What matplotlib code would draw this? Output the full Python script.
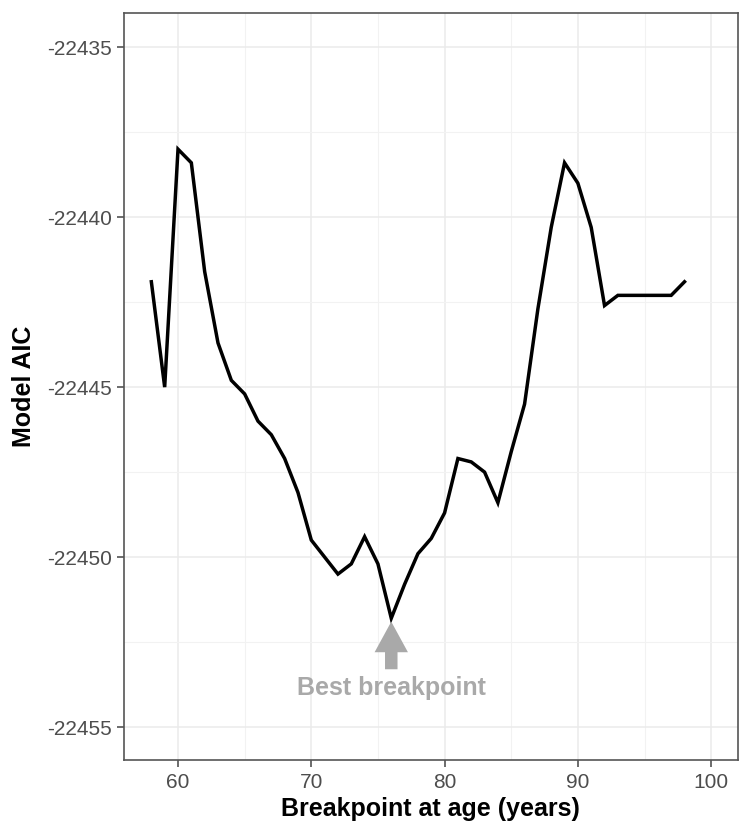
import matplotlib
matplotlib.use("Agg")
import matplotlib.pyplot as plt
from matplotlib.ticker import MultipleLocator

# AIC for each candidate breakpoint age
ages = list(range(58, 99))
aic = [-22441.9, -22445.0, -22438.0, -22438.4, -22441.6, -22443.7, -22444.8,
       -22445.2, -22446.0, -22446.4, -22447.1, -22448.1, -22449.5, -22450.0,
       -22450.5, -22450.2, -22449.4, -22450.2, -22451.8, -22450.8, -22449.9,
       -22449.45, -22448.7, -22447.1, -22447.2, -22447.5, -22448.4, -22446.9,
       -22445.5, -22442.7, -22440.3, -22438.4, -22439.0, -22440.3, -22442.6,
       -22442.3, -22442.3, -22442.3, -22442.3, -22442.3, -22441.9]

best_age = 76
best_label = "Best breakpoint"
x_ticks = [60, 70, 80, 90, 100]
y_ticks = [-22455, -22450, -22445, -22440, -22435]

plt.rcParams["font.family"] = ["Liberation Sans", "DejaVu Sans"]

fig = plt.figure(figsize=(7.44, 8.27), dpi=100)
ax = fig.add_axes([0.1667, 0.081, 0.825, 0.903])

ax.plot(ages, aic, color="black", lw=2.5, solid_joinstyle="miter", zorder=3)

# arrow pointing at the minimum
gray = "#a9a9a9"
ax.annotate("", xy=(best_age, -22451.9), xytext=(best_age, -22453.3),
            arrowprops=dict(arrowstyle="simple,head_length=1.1,head_width=1.2,tail_width=0.45",
                            mutation_scale=20, color=gray, lw=0,
                            shrinkA=0, shrinkB=0), zorder=4)
ax.text(best_age, -22453.85, best_label, color=gray, fontsize=18,
        fontweight="bold", ha="center", va="center")

ax.set_xlim(55.95, 102.0)
ax.set_ylim(-22455.97, -22434.0)
ax.set_xticks(x_ticks)
ax.set_yticks(y_ticks)
ax.set_yticklabels([str(v) for v in y_ticks])
ax.xaxis.set_minor_locator(MultipleLocator(5))
ax.yaxis.set_minor_locator(MultipleLocator(2.5))

ax.grid(which="major", color="#ebebeb", lw=1.1, zorder=0)
ax.grid(which="minor", color="#f2f2f2", lw=0.8, zorder=0)
ax.set_axisbelow(True)
for s in ax.spines.values():
    s.set_color("#555555")
    s.set_linewidth(1.2)
ax.tick_params(which="major", length=5, width=1.1, color="#444444",
               labelsize=15, labelcolor="#4d4d4d", pad=4)
ax.tick_params(which="minor", length=0)

ax.set_xlabel("Breakpoint at age (years)", fontsize=18, fontweight="bold", labelpad=4)
ax.set_ylabel("Model AIC", fontsize=18, fontweight="bold", labelpad=8)

fig.savefig("out.png", dpi=100)
